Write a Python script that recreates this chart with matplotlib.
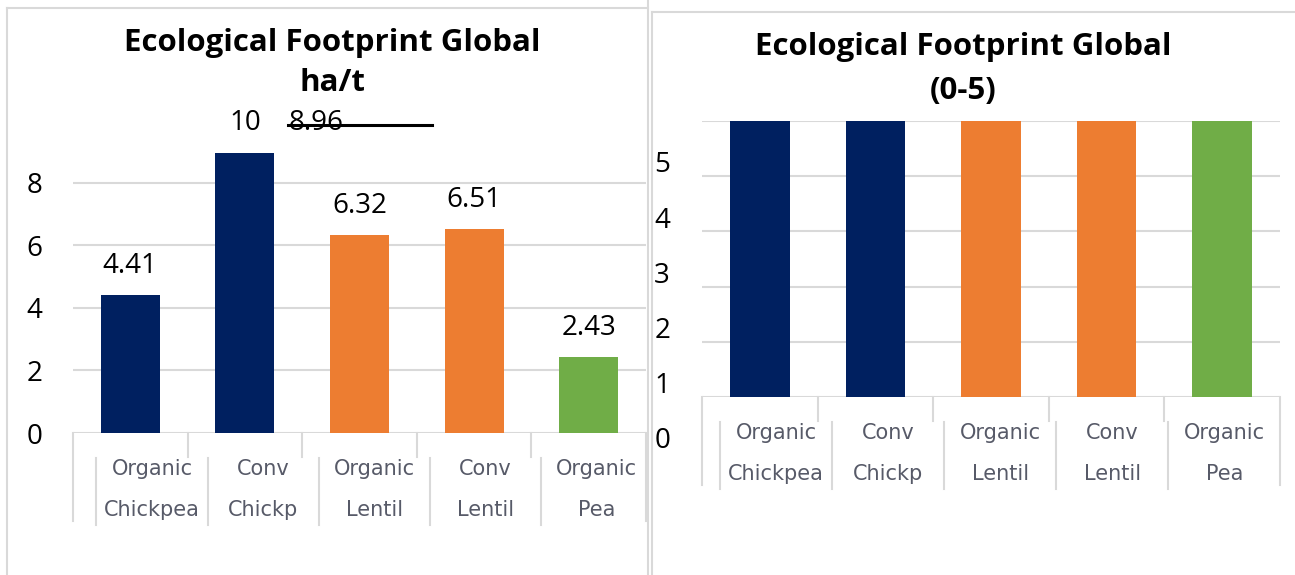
import matplotlib.pyplot as plt
from matplotlib.lines import Line2D
from matplotlib.transforms import ScaledTranslation, blended_transform_factory

# data
categories = [("Organic", "Chickpea"), ("Conv", "Chickp"), ("Organic", "Lentil"),
              ("Conv", "Lentil"), ("Organic", "Pea")]
footprint = [4.41, 8.96, 6.32, 6.51, 2.43]
footprint_labels = ["4.41", "10", "6.32", "6.51", "2.43"]
struck_label = "8.96"
scores = [5, 5, 5, 5, 5]   # right chart, all bars reach the top of the 0-5 scale
colors = ["#002060", "#002060", "#ED7D31", "#ED7D31", "#70AD47"]

W, H, DPI = 1295, 575, 100
fig = plt.figure(figsize=(W / DPI, H / DPI), dpi=DPI)
plt.rcParams['font.family'] = ['Open Sans', 'DejaVu Sans']

GRID = "#d9d9d9"
LBL = "#575a68"
NUM = 20


def px_axes(x0, y0, x1, y1):
    # axes box from pixel coords (top-left origin)
    return fig.add_axes([x0 / W, 1 - y1 / H, (x1 - x0) / W, (y1 - y0) / H])


def draw_chart(ax, values, ylim, yticks, ax_h, shift, label_pad):
    n = len(values)
    x = list(range(n))
    ax.bar(x, values, width=0.515, color=colors, zorder=3)
    ax.set_xlim(-0.5, n - 0.5)
    ax.set_ylim(*ylim)
    ax.set_yticks(yticks)
    ax.set_xticks([])
    ax.grid(axis='y', color=GRID, lw=1.5, zorder=0)
    for s in ax.spines.values():
        s.set_visible(False)
    ax.tick_params(axis='y', length=0, pad=label_pad, labelsize=NUM)

    trans = blended_transform_factory(ax.transData, ax.transAxes)
    # category box lines (Excel style)
    for b in range(n + 1):
        bx = b - 0.5
        h = 24 if 0 < b < n else 88
        ax.plot([bx, bx], [0, -h / ax_h], color=GRID, lw=1.5, transform=trans, clip_on=False)
    for b in range(n):
        bx = (b - 0.5) * 0.97 + shift
        ax.plot([bx, bx], [-25 / ax_h, -92 / ax_h], color=GRID, lw=1.5,
                transform=trans, clip_on=False)
    # category labels, two lines each
    for i, (l1, l2) in enumerate(categories):
        cx = i * 0.97 + shift
        for line, dy in ((l1, 36), (l2, 77)):
            ax.text(cx, 0, line, transform=trans + ScaledTranslation(0, -dy / DPI, fig.dpi_scale_trans),
                    ha='center', va='center', fontsize=15, color=LBL, family='DejaVu Sans')


# left chart
ax1 = px_axes(73, 120, 646, 433)
draw_chart(ax1, footprint, (0, 10), [0, 2, 4, 6, 8], 313, 0.19, 22)
for i, (v, t) in enumerate(zip(footprint, footprint_labels)):
    ax1.annotate(t, (i, v), xytext=(0, 21), textcoords='offset points',
                 ha='center', va='center', fontsize=NUM, color='black')
ax1.annotate(struck_label, (1.38, footprint[1]), xytext=(0, 21), textcoords='offset points',
             ha='left', va='center', fontsize=NUM, color='black', annotation_clip=False)
ax1.plot([1.38, 2.63], [9.84, 9.84], color='black', lw=2.2, clip_on=False, zorder=4)

# right chart
ax2 = px_axes(702, 121, 1280, 397)
draw_chart(ax2, scores, (0, 5), [0, 1, 2, 3, 4, 5], 276, 0.14, 23)
for lab in ax2.get_yticklabels():
    lab.set_transform(lab.get_transform() + ScaledTranslation(0, -0.41, fig.dpi_scale_trans))

# titles
fig.text(332 / W, 1 - 63 / H, "Ecological Footprint Global\nha/t", ha='center', va='center',
         fontsize=22.5, fontweight='bold', linespacing=1.45)
fig.text(963 / W, 1 - 69 / H, "Ecological Footprint Global\n(0-5)", ha='center', va='center',
         fontsize=22.5, fontweight='bold', linespacing=1.65)

# panel borders
def fig_line(xs, ys):
    fig.add_artist(Line2D([x / W for x in xs], [1 - y / H for y in ys], color=GRID, lw=1.5))

fig_line([7, 7], [8, 575])
fig_line([7, 648], [8, 8])
fig_line([648, 648], [0, 575])
fig_line([652, 652], [12, 575])
fig_line([652, 1295], [12, 12])

fig.savefig("out.png", dpi=DPI)
